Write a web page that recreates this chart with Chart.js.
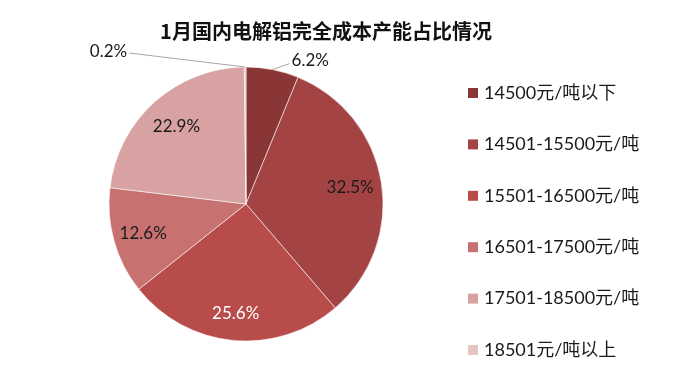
<!DOCTYPE html>
<html>
<head>
<meta charset="utf-8">
<script src="https://cdn.jsdelivr.net/npm/chart.js@4/dist/chart.umd.min.js"></script>
<style>
  html, body { margin: 0; padding: 0; background: #fff; }
  #wrap { width: 681px; height: 387px; position: relative; }
</style>
</head>
<body>
<div id="wrap"><canvas id="c"></canvas></div>
<script>
const chartTitle = '1月国内电解铝完全成本产能占比情况';
const categories = ['14500元/吨以下', '14501-15500元/吨', '15501-16500元/吨', '16501-17500元/吨', '17501-18500元/吨', '18501元/吨以上'];
const shares = [6.2, 32.5, 25.6, 12.6, 22.9, 0.2];

const sliceColors = ['#8B3636', '#A44343', '#B84C4B', '#C77271', '#D9A2A2', '#E6C4C4'];
const labelColors = ['#1a1a1a', '#1a1a1a', '#ffffff', '#1a1a1a', '#1a1a1a', '#1a1a1a'];
// label placement style: inside at radius fraction, or outside with a leader line offset
const labelPlacement = [
  { outside: true, lx: 17, ly: -6, tx: 2, ty: -3, align: 'left' },
  { outside: false, f: 0.77 },
  { outside: false, f: 0.80 },
  { outside: false, f: 0.78 },
  { outside: false, f: 0.76 },
  { outside: true, lx: -116, ly: -14, tx: -2, ty: -1, align: 'right' }
];
const FONT = "Lato, 'Noto Sans CJK SC', sans-serif";

const decorPlugin = {
  id: 'decor',
  afterDatasetsDraw(chart) {
    const ctx = chart.ctx;
    const meta = chart.getDatasetMeta(0);
    ctx.save();
    ctx.font = '17px ' + FONT;
    ctx.textBaseline = 'middle';
    meta.data.forEach((arc, i) => {
      const p = arc.getProps(['x', 'y', 'startAngle', 'endAngle', 'outerRadius'], true);
      const mid = (p.startAngle + p.endAngle) / 2;
      const text = shares[i].toFixed(1) + '%';
      const pl = labelPlacement[i];
      if (pl.outside) {
        const ex = p.x + Math.cos(mid) * p.outerRadius;
        const ey = p.y + Math.sin(mid) * p.outerRadius;
        const lx = ex + pl.lx, ly = ey + pl.ly;
        ctx.strokeStyle = '#a6a6a6';
        ctx.lineWidth = 1;
        ctx.beginPath();
        ctx.moveTo(ex, ey);
        ctx.lineTo(lx, ly);
        ctx.stroke();
        ctx.fillStyle = labelColors[i];
        ctx.textAlign = pl.align;
        ctx.fillText(text, lx + pl.tx, ly + pl.ty);
      } else {
        const r = p.outerRadius * pl.f;
        ctx.fillStyle = labelColors[i];
        ctx.textAlign = 'center';
        ctx.fillText(text, p.x + Math.cos(mid) * r, p.y + Math.sin(mid) * r);
      }
    });
    ctx.restore();
  },
  afterDraw(chart) {
    const ctx = chart.ctx;
    ctx.save();
    // title
    ctx.font = "bold 20px 'Noto Sans CJK SC', sans-serif";
    ctx.fillStyle = '#111';
    ctx.textAlign = 'center';
    ctx.textBaseline = 'middle';
    ctx.fillText(chartTitle, 326, 31);
    // legend
    ctx.font = '18px ' + FONT;
    ctx.textAlign = 'left';
    const ds = chart.data.datasets[0];
    chart.data.labels.forEach((lab, i) => {
      const cy = 93 + i * 51.4;
      ctx.fillStyle = ds.backgroundColor[i];
      ctx.fillRect(468, cy - 5, 10, 10);
      ctx.fillStyle = '#1a1a1a';
      ctx.fillText(lab, 484, cy);
    });
    ctx.restore();
  }
};

new Chart(document.getElementById('c'), {
  type: 'pie',
  data: {
    labels: categories,
    datasets: [{
      data: shares,
      backgroundColor: sliceColors,
      borderColor: 'rgba(255,255,255,0.55)',
      borderWidth: 1,
      radius: 137
    }]
  },
  options: {
    responsive: true,
    maintainAspectRatio: false,
    animation: false,
    layout: { padding: { left: 109, right: 298, top: 67, bottom: 46 } },
    plugins: {
      legend: { display: false },
      tooltip: { enabled: false },
      title: { display: false }
    }
  },
  plugins: [decorPlugin]
});
</script>
</body>
</html>
